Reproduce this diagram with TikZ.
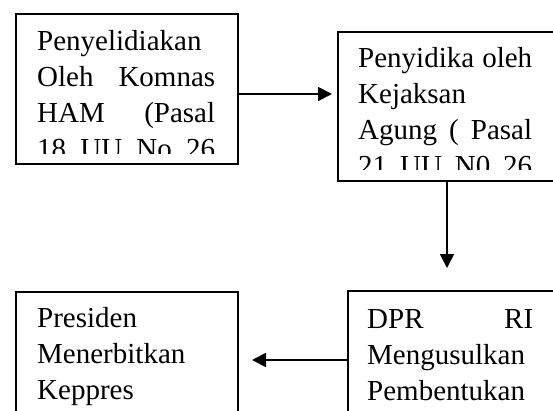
\documentclass[tikz,border=0pt]{standalone}
\usepackage{fontspec}
\setmainfont{Liberation Serif}
\usetikzlibrary{arrows.meta}
\newcommand{\jline}[2]{\leavevmode\hbox to #1{#2}}
\newcommand{\firstrule}{\rule{0pt}{22pt}}
\tikzset{
  boxnode/.style={draw=black, line width=1.8pt, rectangle, anchor=north west, inner sep=0pt},
  txtnode/.style={anchor=north west, inner sep=0pt, align=left, text width=#1,
    font=\fontsize{29}{36}\selectfont},
  conn/.style={draw=black, line width=1.8pt, -{Triangle[length=14pt,width=14pt]}}
}
\begin{document}
\begin{tikzpicture}[x=1pt,y=1pt]
\useasboundingbox (0,0) rectangle (553,-410);
% boxes
\node[boxnode, minimum width=222pt, minimum height=150pt] (b1) at (15,-13) {};
\node[boxnode, minimum width=216.5pt, minimum height=149pt] (b2) at (337,-31) {};
\node[boxnode, minimum width=222pt, minimum height=145pt] (b3) at (15,-291) {};
\node[boxnode, minimum width=206.5pt, minimum height=145pt] (b4) at (347,-290) {};
% texts (clipped at inner bottom margin)
\begin{scope}
  \clip (b1.north west) rectangle ([yshift=11pt]b1.south east);
  \node[txtnode=178pt] (t1) at (37,-28) {\firstrule Penyelidiakan\\
    \jline{178pt}{Oleh\hfill Komnas}\\
    \jline{178pt}{HAM\hfill (Pasal}\\
    \jline{178pt}{18\hfill UU\hfill No\hfill 26}};
\end{scope}
\begin{scope}
  \clip (b2.north west) rectangle ([yshift=12pt]b2.south east);
  \node[txtnode=174pt] (t2) at (358,-45) {\firstrule\jline{174pt}{Penyidika\hfill oleh}\\
    Kejaksan\\
    \jline{174pt}{Agung\hfill (\hfill Pasal}\\
    \jline{174pt}{21\hfill UU\hfill N0\hfill 26}};
\end{scope}
\node[txtnode=178pt] (t3) at (37,-305) {\firstrule Presiden\\
    Menerbitkan\\
    Keppres};
\node[txtnode=166pt] (t4) at (367,-306) {\firstrule\jline{166pt}{DPR\hfill RI}\\
    Mengusulkan\\
    Pembentukan};
% connector end points
\coordinate (tipA) at (332,-94);
\coordinate (tipB) at (447,-268);
\coordinate (tipC) at (252,-360);
\draw[conn] (b1.east |- tipA) -- (tipA);
\draw[conn] (tipB |- b2.south) -- (tipB);
\draw[conn] (b4.west |- tipC) -- (tipC);
\end{tikzpicture}
\end{document}
